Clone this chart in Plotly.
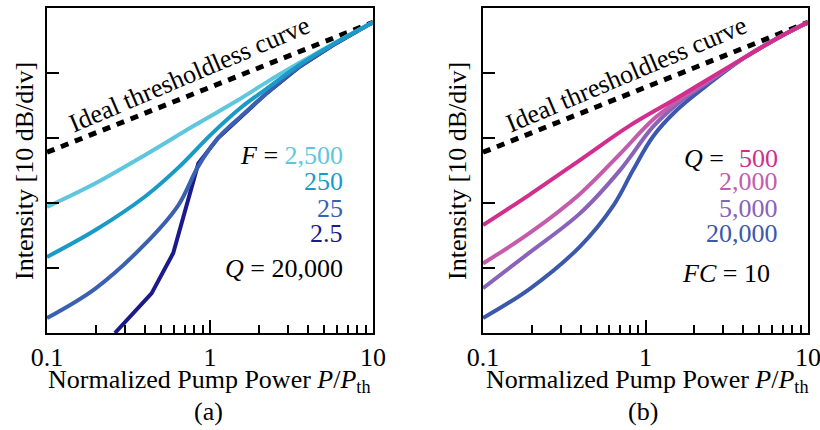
import plotly.graph_objects as go

# ---------------- data ----------------
ideal_x = [0.1, 10]
ideal_y = [27.8, 47.8]

# panel (a): Q = 20,000, varying F
a_labels = ["2,500", "250", "25", "2.5"]
a_colors = ["#5EC6DE", "#1A9AC6", "#3A60B2", "#1C1A8A"]
a_x_2500 = [0.1, 0.197, 0.40, 0.81, 1.48, 2.23, 3.56, 5.6, 10]
a_y_2500 = [19.4, 23.0, 27.4, 32.0, 35.8, 38.6, 41.6, 44.4, 47.8]
a_x_250 = [0.1, 0.197, 0.40, 0.637, 1.02, 1.57, 2.23, 3.56, 5.6, 10]
a_y_250 = [11.7, 15.8, 21.0, 25.4, 30.6, 34.8, 37.6, 41.3, 44.3, 47.8]
a_x_25 = [0.1, 0.197, 0.40, 0.637, 0.845, 1.12, 1.64, 2.23, 3.56, 5.6, 10]
a_y_25 = [2.3, 6.8, 13.7, 19.6, 25.6, 30.0, 33.9, 36.9, 41.0, 44.2, 47.8]
a_x_2p5 = [0.261, 0.438, 0.595, 0.703, 0.848, 1.12, 1.64, 2.23, 3.56, 5.6, 10]
a_y_2p5 = [0.0, 6.1, 12.3, 18.9, 26.1, 30.0, 33.9, 36.9, 41.0, 44.2, 47.8]

# panel (b): FC = 10, varying Q
b_labels = ["500", "2,000", "5,000", "20,000"]
b_colors = ["#D22E8E", "#C45CAC", "#8962BA", "#3C58AC"]
b_x_500 = [0.1, 0.194, 0.395, 0.80, 1.48, 2.07, 4.2, 7.0, 10]
b_y_500 = [16.6, 21.3, 26.6, 31.9, 35.8, 38.0, 42.6, 45.8, 47.8]
b_x_2000 = [0.1, 0.194, 0.395, 0.70, 1.11, 1.6, 2.3, 4.2, 7.0, 10]
b_y_2000 = [10.7, 15.4, 21.4, 27.6, 32.8, 35.8, 38.4, 42.6, 45.8, 47.8]
b_x_5000 = [0.1, 0.194, 0.395, 0.70, 1.11, 1.6, 2.3, 4.2, 7.0, 10]
b_y_5000 = [6.9, 12.4, 18.4, 25.1, 31.7, 35.4, 38.2, 42.6, 45.8, 47.8]
b_x_20000 = [0.1, 0.194, 0.395, 0.634, 0.84, 1.11, 1.56, 2.3, 4.2, 7.0, 10]
b_y_20000 = [2.3, 6.8, 13.3, 19.6, 25.1, 30.2, 34.3, 37.8, 42.6, 45.8, 47.8]

x_tickvals = [0.1, 1, 10]
x_ticktext = ["0.1", "1", "10"]
x_minor = [0.2, 0.3, 0.4, 0.5, 0.6, 0.7, 0.8, 0.9, 2, 3, 4, 5, 6, 7, 8, 9]
y_tickvals = [10, 20, 30, 40]

FONT = "Liberation Serif, Times New Roman, serif"
W, H = 820, 430

fig = go.Figure()

def line(x, y, color, xa, ya, shape="spline", dash="solid", width=4):
    fig.add_trace(go.Scatter(x=x, y=y, mode="lines", xaxis=xa, yaxis=ya,
                             line=dict(color=color, width=width, shape=shape, dash=dash,
                                       smoothing=1.0 if shape == "spline" else None),
                             showlegend=False, hoverinfo="skip"))

# panel a
line(ideal_x, ideal_y, "black", "x", "y", shape="linear", dash="8px,7px", width=5)
line(a_x_2p5, a_y_2p5, a_colors[3], "x", "y", shape="linear")
line(a_x_25, a_y_25, a_colors[2], "x", "y")
line(a_x_2500, a_y_2500, a_colors[0], "x", "y")
line(a_x_250, a_y_250, a_colors[1], "x", "y")

# panel b
line(ideal_x, ideal_y, "black", "x2", "y2", shape="linear", dash="8px,7px", width=5)
line(b_x_20000, b_y_20000, b_colors[3], "x2", "y2")
line(b_x_5000, b_y_5000, b_colors[2], "x2", "y2")
line(b_x_2000, b_y_2000, b_colors[1], "x2", "y2")
line(b_x_500, b_y_500, b_colors[0], "x2", "y2")

def xaxis(domain, anchor):
    return dict(type="log", range=[-1, 1], domain=domain, anchor=anchor, automargin=False,
                showline=True, linecolor="black", linewidth=2, mirror=True,
                showgrid=False, zeroline=False, ticklabeloverflow="allow",
                tickmode="array", tickvals=x_tickvals, ticktext=x_ticktext,
                ticks="inside", ticklen=13, tickwidth=2, tickcolor="black",
                tickfont=dict(family=FONT, size=26, color="black"),
                minor=dict(tickmode="array", tickvals=x_minor, ticks="inside",
                           ticklen=8, tickwidth=2, tickcolor="black", showgrid=False))

def yaxis(domain, anchor):
    return dict(range=[0, 50], domain=domain, anchor=anchor, automargin=False,
                showline=True, linecolor="black", linewidth=2, mirror=True,
                showgrid=False, zeroline=False,
                tickmode="array", tickvals=y_tickvals, showticklabels=False,
                ticks="inside", ticklen=12, tickwidth=2, tickcolor="black")

ydom = [1 - 333 / H, 1 - 8 / H]
fig.update_layout(
    width=W, height=H, margin=dict(l=0, r=0, t=0, b=0, autoexpand=False),
    paper_bgcolor="white", plot_bgcolor="white",
    font=dict(family=FONT, size=26, color="black"),
    xaxis=xaxis([47 / W, 373 / W], "y"),
    yaxis=yaxis(ydom, "x"),
    xaxis2=xaxis([483 / W, 808 / W], "y2"),
    yaxis2=yaxis(ydom, "x2"),
)

def ann(text, px, py, xanchor="center", yanchor="middle", angle=0, color="black"):
    fig.add_annotation(text=text, x=px / W, y=1 - py / H, xref="paper", yref="paper",
                       xanchor=xanchor, yanchor=yanchor, showarrow=False, textangle=angle,
                       font=dict(family=FONT, size=26, color=color))

ann("Normalized Pump Power <i>P</i>/<i>P</i><sub>th</sub>", 209, 381)
ann("Normalized Pump Power <i>P</i>/<i>P</i><sub>th</sub>", 647, 381)
ann("(a)", 208, 411)
ann("(b)", 643, 411)
ann("Intensity [10 dB/div]", 24, 171, angle=-90)
ann("Intensity [10 dB/div]", 457, 171, angle=-90)
ann("Ideal thresholdless curve", 189, 74, angle=-23)
ann("Ideal thresholdless curve", 626, 74, angle=-23)

# legend texts panel a
ann("<i>F</i> = <span style='color:%s'>%s</span>" % (a_colors[0], a_labels[0]), 345, 155, xanchor="right")
for i, yy in zip([1, 2, 3], [182, 208, 233]):
    ann(a_labels[i], 345, yy, xanchor="right", color=a_colors[i])
ann("<i>Q</i> = 20,000", 345, 268, xanchor="right")

# legend texts panel b
ann("<i>Q</i> =", 682, 158, xanchor="left")
for i, yy in zip([0, 1, 2, 3], [158, 182, 208, 233]):
    ann(b_labels[i], 780, yy, xanchor="right", color=b_colors[i])
ann("<i>FC</i> = 10", 680, 273, xanchor="left")

fig.write_html("out.html")
